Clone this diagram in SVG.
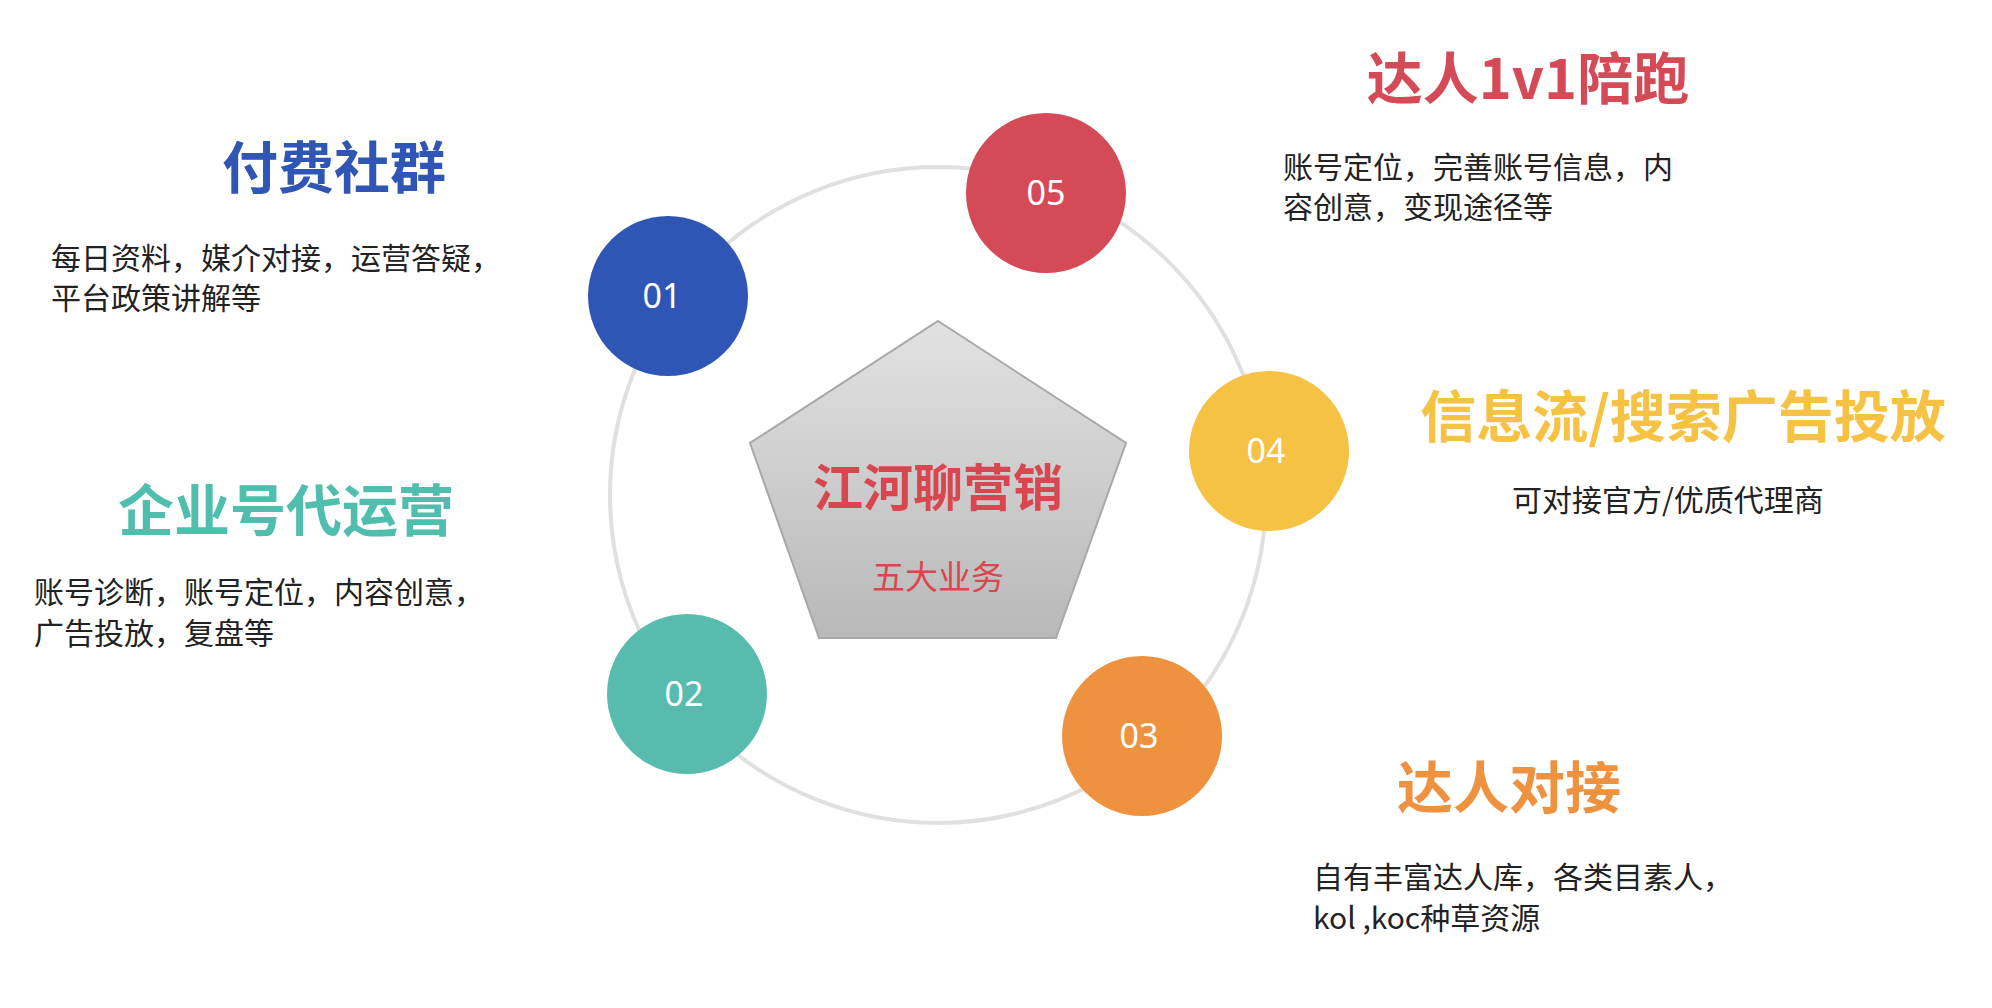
<svg xmlns="http://www.w3.org/2000/svg" width="1992" height="1008" viewBox="0 0 1992 1008">
<style>
text{font-family:"Noto Sans CJK SC","Noto Sans",sans-serif}
.num{fill:#fff;font-size:34px;text-anchor:middle;font-family:"Noto Sans",sans-serif}
.t{font-size:56px;font-weight:bold;text-anchor:middle}
.d{font-size:30px;fill:#222}
</style>
<defs><linearGradient id="g" x1="0" y1="0" x2="0" y2="1"><stop offset="0" stop-color="#e2e2e2"/><stop offset="1" stop-color="#b8b8b8"/></linearGradient></defs>
<rect width="1992" height="1008" fill="#fff"/>
<g id="connectors"><circle cx="938" cy="495" r="328" fill="none" stroke="#e0e0e0" stroke-width="4"/></g>
<g id="center">
<polygon points="938,321 1126,443 1056,638 819,638 750,443" fill="url(#g)" stroke="#a8a8a8" stroke-width="2"/>
<text x="938" y="506" font-size="50" font-weight="bold" fill="#d8464f" text-anchor="middle">江河聊营销</text>
<text x="938" y="589" font-size="33" fill="#d8464f" text-anchor="middle">五大业务</text>
</g>
<g id="n01"><circle cx="668" cy="296" r="80" fill="#2f55b5"/><text class="num" x="662" y="308">01</text>
<text class="t" x="334" y="188" fill="#2f55b5">付费社群</text>
<text class="d" x="51" y="269">每日资料，媒介对接，运营答疑，</text><text class="d" x="51" y="309">平台政策讲解等</text></g>
<g id="n02"><circle cx="687" cy="694" r="80" fill="#57bcae"/><text class="num" x="684" y="706">02</text>
<text class="t" x="286" y="531" fill="#4fbeac">企业号代运营</text>
<text class="d" x="34" y="603">账号诊断，账号定位，内容创意，</text><text class="d" x="34" y="644">广告投放，复盘等</text></g>
<g id="n03"><circle cx="1142" cy="736" r="80" fill="#ef9240"/><text class="num" x="1139" y="748">03</text>
<text class="t" x="1509" y="808" fill="#ef9240">达人对接</text>
<text class="d" x="1313" y="888">自有丰富达人库，各类目素人，</text><text class="d" x="1313" y="929">kol ,koc种草资源</text></g>
<g id="n04"><circle cx="1269" cy="451" r="80" fill="#f5c244"/><text class="num" x="1266" y="463">04</text>
<text class="t" x="1683" y="437" fill="#f5c244" font-weight="normal" font-size="57">信息流/搜索广告投放</text>
<text class="d" x="1668" y="511" text-anchor="middle">可对接官方/优质代理商</text></g>
<g id="n05"><circle cx="1046" cy="193" r="80" fill="#d44b57"/><text class="num" x="1046" y="205">05</text>
<text class="t" x="1528" y="99" fill="#d44b57">达人1v1陪跑</text>
<text class="d" x="1283" y="178">账号定位，完善账号信息，内</text><text class="d" x="1283" y="218">容创意，变现途径等</text></g>
</svg>
